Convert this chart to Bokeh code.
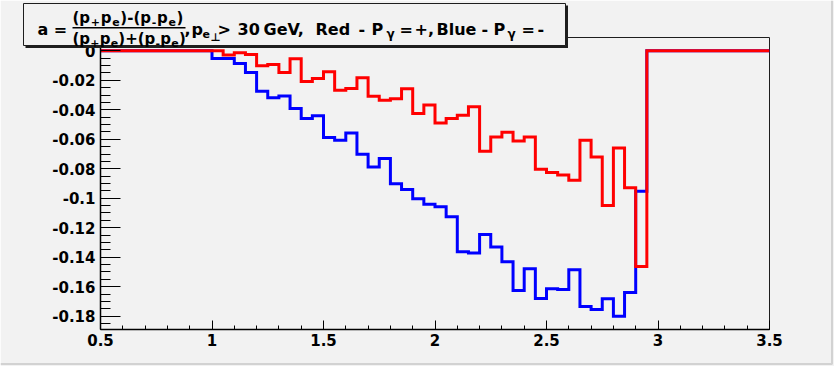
from bokeh.plotting import figure
from bokeh.models import Range1d, FixedTicker, Label, GridBox
from bokeh.embed import file_html
from bokeh.resources import INLINE

# ---- histogram data: 60 bins of width 0.05 between 0.5 and 3.5 ----
x_low, x_high, bin_width = 0.5, 3.5, 0.05
n_bins = 60

# asymmetry per bin, P_gamma = +
red_vals = [0.0] * 10 + [
    0.0, -0.0029, -0.0013, -0.0025, -0.0102, -0.0093, -0.0147, -0.0054,
    -0.0208, -0.0188, -0.0143, -0.0267, -0.0256, -0.0183, -0.0308, -0.0335,
    -0.0326, -0.0258, -0.0425, -0.0367, -0.0489, -0.0460, -0.0437, -0.0380,
    -0.0681, -0.0584, -0.0552, -0.0611, -0.0584, -0.0804, -0.0826, -0.0842,
    -0.0878, -0.0607, -0.0720, -0.1050, -0.0659, -0.0928, -0.1463,
] + [0.0] * 11

# asymmetry per bin, P_gamma = -
blue_vals = [0.0] * 10 + [
    -0.0052, -0.0052, -0.0086, -0.0147, -0.0274, -0.0319, -0.0306, -0.0392,
    -0.0459, -0.0440, -0.0588, -0.0607, -0.0557, -0.0702, -0.0788, -0.0731,
    -0.0901, -0.0940, -0.1003, -0.1041, -0.1058, -0.1125, -0.1363, -0.1372,
    -0.1245, -0.1331, -0.1431, -0.1626, -0.1478, -0.1680, -0.1614, -0.1619,
    -0.1485, -0.1734, -0.1755, -0.1682, -0.1800, -0.1639, -0.0953,
] + [0.0] * 11

x_ticks = [0.5, 1.0, 1.5, 2.0, 2.5, 3.0, 3.5]
x_tick_labels = ["0.5", "1", "1.5", "2", "2.5", "3", "3.5"]
y_ticks = [0.0, -0.02, -0.04, -0.06, -0.08, -0.1, -0.12, -0.14, -0.16, -0.18]
y_tick_labels = ["0", "-0.02", "-0.04", "-0.06", "-0.08", "-0.1",
                 "-0.12", "-0.14", "-0.16", "-0.18"]

# ---- canvas geometry ----
W, H = 834, 366
FL, FR, FT, FB = 100, 769, 37, 329   # frame edges in canvas pixels
BG = "#f2f2f2"
INK = "#1e1e1e"
FONT = "DejaVu Sans"

p = figure(width=W, height=H, output_backend="svg", toolbar_location=None,
           x_range=Range1d(x_low, x_high), y_range=Range1d(-0.189, 0.009),
           min_border_left=FL, min_border_right=W - FR,
           min_border_top=FT, min_border_bottom=H - FB)
p.frame_align = False
p.title.visible = False
p.background_fill_color = BG
p.border_fill_color = BG
p.outline_line_color = INK
p.outline_line_width = 1
p.xgrid.visible = False
p.ygrid.visible = False

x_minor = [round(0.5 + 0.1 * i, 2) for i in range(31)]
y_minor = [round(0.005 - 0.005 * i, 3) for i in range(39)]
p.xaxis.ticker = FixedTicker(ticks=x_ticks, minor_ticks=x_minor)
p.yaxis.ticker = FixedTicker(ticks=y_ticks, minor_ticks=y_minor)
p.xaxis.major_label_overrides = dict(zip(x_ticks, x_tick_labels))
p.yaxis.major_label_overrides = dict(zip(y_ticks, y_tick_labels))

for ax in (p.xaxis[0], p.yaxis[0]):
    ax.axis_line_color = "black"
    ax.axis_line_width = 1.5
    ax.major_tick_line_color = "black"
    ax.minor_tick_line_color = "black"
    ax.major_tick_out = 0
    ax.minor_tick_out = 0
    ax.major_label_text_font = FONT
    ax.major_label_text_font_style = "bold"
    ax.major_label_text_font_size = "15px"
    ax.major_label_text_color = "black"

p.yaxis.major_tick_in = 20
p.yaxis.minor_tick_in = 10
p.yaxis.major_label_standoff = 5
p.xaxis.major_tick_in = 9
p.xaxis.minor_tick_in = 4
p.xaxis.major_label_standoff = 4

# ---- the two histograms, drawn as steps over the bin edges ----
edges = [round(x_low + i * bin_width, 2) for i in range(n_bins + 1)]
p.step(edges, blue_vals + [blue_vals[-1]], mode="after",
       line_color="#0000ff", line_width=3, line_join="miter")
p.step(edges, red_vals + [red_vals[-1]], mode="after",
       line_color="#ff0000", line_width=3, line_join="miter")

# ---- transparent overlay in canvas pixels for the title pave ----
t = figure(width=W, height=H, output_backend="svg", toolbar_location=None,
           x_range=Range1d(0, W), y_range=Range1d(H, 0),
           x_axis_type=None, y_axis_type=None,
           min_border_left=0, min_border_right=0,
           min_border_top=0, min_border_bottom=0)
t.frame_align = False
t.title.visible = False
t.background_fill_alpha = 0
t.border_fill_alpha = 0
t.outline_line_color = None

# canvas edge
t.line([0, W - 2.5, W - 2.5], [H - 2.5, H - 2.5, 0], line_color="#d2d2d2",
       line_width=2)
# pave shadow and pave
t.quad(left=[25], right=[567.5], top=[5], bottom=[47.5], fill_color=INK,
       line_color=None)
t.quad(left=[23], right=[565], top=[3], bottom=[45], fill_color=BG,
       line_color=INK, line_width=1)
# fraction bar
t.line([72, 185], [27.3, 27.3], line_color="black", line_width=1.6)


def label(X, Y, txt, size):
    t.add_layout(Label(x=X, y=Y, text=txt, text_font=FONT,
                       text_font_style="bold", text_font_size=f"{size}px",
                       text_color="black", text_align="left",
                       text_baseline="middle"))


# DejaVu Sans Bold advance widths (em) for the fraction pieces
W_EM = {" ": 0.348, "(": 0.457, ")": 0.457, "+": 0.838, "-": 0.415,
        "p": 0.716, "e": 0.678}


def row(X, Y, parts, gap=0.0):
    for txt, size, dy in parts:
        label(X, Y + dy, txt, size)
        X += sum(W_EM.get(c, 0.6) for c in txt) * size + gap


label(37, 28.5, "a =", 16)
row(72, 17, [("(p", 15, 0), ("+", 11, 4), ("p", 15, 0), ("e", 11, 4),
             (")-(p", 15, 0), ("-", 11, 4), ("p", 15, 0), ("e", 11, 4),
             (")", 15, 0)], gap=0.7)
row(72, 38, [("(p", 15, 0), ("+", 11, 4), ("p", 15, 0), ("e", 11, 4),
             (")+(p", 15, 0), ("-", 11, 4), ("p", 15, 0), ("e", 11, 4),
             (")", 15, 0)], gap=0.2)

# rest of the title, one piece per word (x, text, size, vertical shift)
title_words = [
    (184, ",", 16, 0), (191, "p", 16, 0), (202, "e", 11, 4.5),
    (210, "\u22a5", 11, 8.5), (217, ">", 16, 0), (237, "30", 16, 0),
    (263, "GeV,", 16, 0), (315, "Red", 16, 0), (358, "-", 16, 0),
    (371, "P", 16, 0), (386, "\u03b3", 12, 5), (399, "=", 16, 0),
    (414, "+,", 16, 0), (436, "Blue", 16, 0), (481, "-", 16, 0),
    (493, "P", 16, 0), (507, "\u03b3", 12, 5), (521, "=", 16, 0),
    (537, "-", 16, 0),
]
for X, txt, size, dy in title_words:
    label(X, 28.5 + dy, txt, size)

grid = GridBox(children=[(p, 0, 0), (t, 0, 0)])
open("out.html", "w").write(file_html(grid, INLINE))
